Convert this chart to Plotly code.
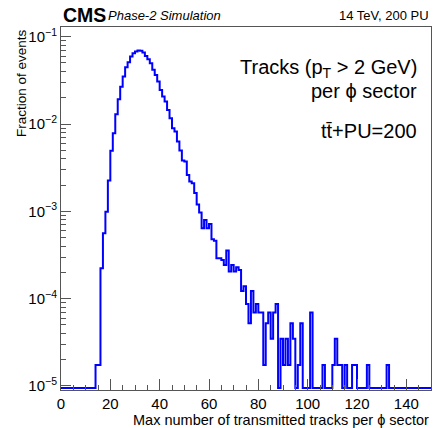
import numpy as np
import plotly.graph_objects as go

# ---- data: fraction of events per bin (bin width 1, bins 0..149) ----
bin_low = 0
bin_high = 150
fractions = [
    0, 0, 0, 0, 0, 0, 0, 0, 0, 0,                      # 0-9
    0, 0, 0, 0, 1.74e-5, 1.74e-5, 2.23e-4, 5.6e-4, 9.9e-4, 2.25e-3,   # 10-19
    4.95e-3, 7.85e-3, 1.29e-2, 1.92e-2, 2.68e-2, 3.49e-2, 4.48e-2, 5.1e-2, 5.92e-2, 6.47e-2,  # 20-29
    6.75e-2, 6.93e-2, 6.9e-2, 6.58e-2, 6.03e-2, 5.52e-2, 4.97e-2, 4.17e-2, 3.65e-2, 3.06e-2,  # 30-39
    2.46e-2, 2.06e-2, 1.81e-2, 1.45e-2, 1.165e-2, 8.95e-3, 8.19e-3, 6.29e-3, 4.96e-3, 3.81e-3,  # 40-49
    3.71e-3, 2.61e-3, 2.19e-3, 2.1e-3, 1.62e-3, 1.2e-3, 9.7e-4, 6.4e-4, 7.96e-4, 6.4e-4,  # 50-59
    7.18e-4, 4.79e-4, 4.6e-4, 2.9e-4, 2.9e-4, 2.77e-4, 2.43e-4, 3.55e-4, 2.04e-4, 2.43e-4,  # 60-69
    2.04e-4, 2.29e-4, 2.13e-4, 1.22e-4, 1.39e-4, 8.7e-5, 5.22e-5, 1.22e-4, 6.96e-5, 8.7e-5,  # 70-79
    6.96e-5, 6.96e-5, 1.74e-5, 5.22e-5, 6.96e-5, 3.48e-5, 6.96e-5, 8.7e-5, 0, 3.48e-5,  # 80-89
    1.74e-5, 3.48e-5, 1.74e-5, 5.22e-5, 3.48e-5, 0, 1.74e-5, 5.22e-5, 0, 0,  # 90-99
    0, 6.96e-5, 0, 0, 0, 0, 1.74e-5, 0, 0, 0,  # 100-109
    1.74e-5, 3.48e-5, 1.74e-5, 1.74e-5, 0, 1.74e-5, 0, 0, 1.74e-5, 1.74e-5,  # 110-119
    0, 0, 0, 0, 1.74e-5, 0, 0, 0, 0, 0,  # 120-129
    0, 0, 1.74e-5, 0, 0, 0, 0, 0, 0, 0,  # 130-139
    0, 0, 0, 0, 0, 0, 0, 0, 0, 0,  # 140-149
]

x_title = "Max number of transmitted tracks per ϕ sector"
y_title = "Fraction of events"
y_tick_vals = [1e-5, 1e-4, 1e-3, 1e-2, 1e-1]
y_tick_text = ["10<sup>−5</sup>", "10<sup>−4</sup>", "10<sup>−3</sup>",
               "10<sup>−2</sup>", "10<sup>−1</sup>"]

# ---- build step line ----
edges = np.arange(bin_low, bin_high + 1)
floor = 9.5e-6  # empty bins are drawn on the bottom of the axis, as ROOT does
yv = [v if v > 0 else floor for v in fractions]
yv = yv + [yv[-1]]

FONT = "Liberation Sans, Arial, Helvetica, sans-serif"

fig = go.Figure()
fig.add_trace(go.Scatter(
    x=edges, y=yv, mode="lines", line=dict(color="#0000ff", width=2, shape="hv"),
    hoverinfo="skip", showlegend=False,
))

axis_common = dict(
    showline=True, linecolor="#555555", linewidth=1, mirror=True,
    showgrid=False, zeroline=False, ticks="inside", tickcolor="#555555",
    tickfont=dict(family=FONT, size=15, color="black"),
)

fig.update_xaxes(
    range=[0, 150], tick0=0, dtick=20, ticklen=11, tickwidth=1,
    minor=dict(ticks="inside", dtick=5, ticklen=5.5, tickcolor="#555555", showgrid=False),
    **axis_common,
)
fig.update_yaxes(
    type="log", range=[-5.046, -0.889], tickvals=y_tick_vals, ticktext=y_tick_text,
    ticklen=10, tickwidth=1,
    minor=dict(ticks="inside", dtick="D1", ticklen=5, tickcolor="#555555", showgrid=False),
    **axis_common,
)

fig.update_layout(
    width=433, height=428,
    margin=dict(l=61, r=2, t=27, b=38),
    paper_bgcolor="white", plot_bgcolor="white",
    font=dict(family=FONT, color="black"),
)

ann = [
    dict(text="<b>CMS</b>", x=61, y=15, size=19.5, xanchor="left"),
    dict(text="<i>Phase-2 Simulation</i>", x=106, y=15, size=13, xanchor="left"),
    dict(text="14 TeV, 200 PU", x=431, y=15, size=13, xanchor="right"),
    dict(text="Tracks (p<sub>T</sub> > 2 GeV)", x=419, y=68, size=20, xanchor="right"),
    dict(text="per ϕ sector", x=419, y=91, size=20, xanchor="right"),
    dict(text="tt\u0304+PU=200", x=419, y=131, size=20, xanchor="right"),
    dict(text=x_title, x=431, y=420, size=14.5, xanchor="right"),
]
for a in ann:
    fig.add_annotation(
        text=a["text"], xref="paper", yref="paper",
        x=(a["x"] - 61) / 370, y=(390 - a["y"]) / 363,
        xanchor=a["xanchor"], yanchor="middle", showarrow=False,
        font=dict(family=FONT, size=a["size"], color="black"),
    )
# y-axis title, rotated, top-aligned
fig.add_annotation(
    text=y_title, xref="paper", yref="paper",
    x=(21 - 61) / 370, y=(390 - 27) / 363, xanchor="center", yanchor="top",
    textangle=-90, showarrow=False,
    font=dict(family=FONT, size=13.5, color="black"),
)

fig.write_html("out.html")
